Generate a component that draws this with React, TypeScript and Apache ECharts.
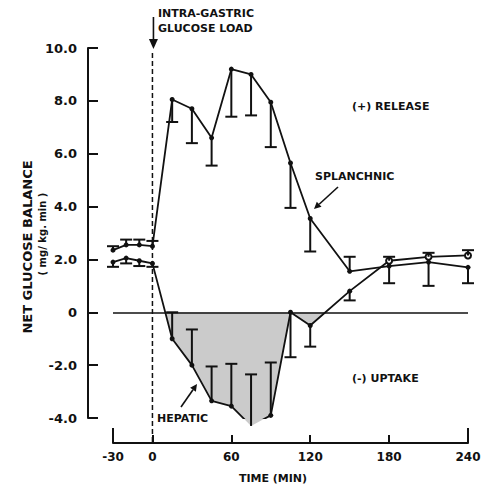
import React, { useEffect, useRef } from "react";
import * as echarts from "echarts";

const TIME = [-30, -20, -10, 0, 15, 30, 45, 60, 75, 90, 105, 120, 150, 180, 210, 240];
const SPLANCHNIC = [2.35, 2.55, 2.55, 2.5, 8.05, 7.7, 6.6, 9.2, 9.0, 7.95, 5.65, 3.55, 1.55, 1.75, 1.9, 1.7];
const SPLANCHNIC_ERR = [2.5, 2.75, 2.75, 2.7, 7.2, 6.4, 5.55, 7.4, 7.45, 6.25, 3.95, 2.3, 2.1, 1.1, 1.0, 1.1];
const HEPATIC = [1.9, 2.05, 1.95, 1.85, -1.0, -2.0, -3.35, -3.55, -4.3, -3.9, 0, -0.5, 0.8, 1.95, 2.1, 2.15];
const HEPATIC_ERR = [1.72, 1.85, 1.75, 1.72, 0, -0.65, -2.05, -1.95, -2.35, -1.9, -1.7, -1.3, 0.45, 2.1, 2.25, 2.35];
const X_TICKS = [-30, 0, 60, 120, 180, 240];
const X_END_TICKS = [-30, 240];
const Y_MIN = -4;
const Y_MAX = 10;
const Y_STEP = 2;

const INK = "#111";
const FONT = "DejaVu Sans";

function arrow(x1: number, y1: number, x2: number, y2: number, head = 7, w = 3.5) {
  const dx = x2 - x1;
  const dy = y2 - y1;
  const len = Math.sqrt(dx * dx + dy * dy);
  const ux = dx / len;
  const uy = dy / len;
  const bx = x2 - ux * head;
  const by = y2 - uy * head;
  return [
    { type: "line", shape: { x1, y1, x2: bx, y2: by }, style: { stroke: INK, lineWidth: 1.6 } },
    {
      type: "polygon",
      shape: { points: [[x2, y2], [bx - uy * w, by + ux * w], [bx + uy * w, by - ux * w]] },
      style: { fill: INK },
    },
  ];
}

function errorBars(times: number[], vals: number[], errs: number[]) {
  return {
    type: "custom",
    z: 4,
    data: times.map((t, i) => [t, vals[i], errs[i]]),
    renderItem: (params: any, api: any) => {
      const p1 = api.coord([api.value(0), api.value(1)]);
      const p2 = api.coord([api.value(0), api.value(2)]);
      return {
        type: "group",
        children: [
          { type: "line", shape: { x1: p1[0], y1: p1[1], x2: p2[0], y2: p2[1] }, style: { stroke: INK, lineWidth: 2 } },
          { type: "line", shape: { x1: p2[0] - 6, y1: p2[1], x2: p2[0] + 6, y2: p2[1] }, style: { stroke: INK, lineWidth: 2 } },
        ],
      };
    },
  };
}

function shading(params: any, api: any) {
  const y0 = api.coord([0, 0])[1];
  const polys: number[][][] = [];
  let cur: number[][] | null = null;
  for (let i = 0; i < TIME.length; i++) {
    const v = HEPATIC[i];
    const p = api.coord([TIME[i], v]);
    if (i > 0) {
      const pv = HEPATIC[i - 1];
      if ((pv > 0 && v < 0) || (pv < 0 && v > 0)) {
        const pp = api.coord([TIME[i - 1], pv]);
        const f = pv / (pv - v);
        const cx = pp[0] + f * (p[0] - pp[0]);
        if (v < 0) {
          cur = [[cx, y0]];
        } else if (cur) {
          cur.push([cx, y0]);
          polys.push(cur);
          cur = null;
        }
      }
    }
    if (v < 0) {
      if (!cur) cur = [[p[0], y0]];
      cur.push(p);
    } else if (v === 0) {
      if (cur) {
        cur.push([p[0], y0]);
        polys.push(cur);
      }
      cur = [[p[0], y0]];
    } else {
      cur = null;
    }
  }
  if (cur && cur.length > 1) {
    cur.push([cur[cur.length - 1][0], y0]);
    polys.push(cur);
  }
  return {
    type: "group",
    children: polys
      .filter((pl) => pl.length >= 3)
      .map((pl) => ({ type: "polygon", shape: { points: pl }, style: { fill: "#cbcbcb", stroke: "none" } })),
  };
}

export default function App() {
  const ref = useRef<HTMLDivElement>(null);
  useEffect(() => {
    if (!ref.current) return;
    const chart = echarts.init(ref.current, null, { renderer: "svg" });
    const gridLeft = 113;
    const gridRight = 24;
    const gridTop = 48;
    const gridBottom = 69;
    const axisOffset = 25;
    chart.setOption({
      animation: false,
      backgroundColor: "#fff",
      grid: { left: gridLeft, right: gridRight, top: gridTop, bottom: gridBottom, containLabel: false },
      xAxis: [
        {
          type: "value",
          min: -30,
          max: 240,
          interval: 30,
          position: "bottom",
          offset: axisOffset,
          splitLine: { show: false },
          axisLine: { show: true, onZero: false, lineStyle: { color: INK, width: 2 } },
          axisTick: { show: true, inside: true, length: 8, customValues: X_TICKS, lineStyle: { color: INK, width: 2 } },
          axisLabel: {
            customValues: X_TICKS,
            color: INK,
            fontFamily: FONT,
            fontWeight: "bold",
            fontSize: 12,
            margin: 8,
          },
        },
        {
          type: "value",
          min: -30,
          max: 240,
          position: "bottom",
          offset: axisOffset,
          splitLine: { show: false },
          axisLine: { show: false, onZero: false },
          axisTick: { show: true, inside: true, length: 15, customValues: X_END_TICKS, lineStyle: { color: INK, width: 2 } },
          axisLabel: { show: false },
        },
      ],
      yAxis: {
        type: "value",
        min: Y_MIN,
        max: Y_MAX,
        interval: Y_STEP,
        position: "left",
        offset: axisOffset,
        splitLine: { show: false },
        axisLine: { show: true, onZero: false, lineStyle: { color: INK, width: 2 } },
        axisTick: { show: true, inside: true, length: 10, lineStyle: { color: INK, width: 2 } },
        axisLabel: {
          color: INK,
          fontFamily: FONT,
          fontWeight: "bold",
          fontSize: 13,
          margin: 11,
          formatter: (v: number) => (v === 0 ? "0" : v.toFixed(1)),
        },
      },
      series: [
        {
          type: "custom",
          z: 1,
          data: [[0, 0]],
          renderItem: shading,
          markLine: {
            silent: true,
            symbol: "none",
            label: { show: false },
            lineStyle: { color: INK, width: 1.6, type: "solid" },
            data: [{ yAxis: 0 }],
          },
        },
        {
          name: "Splanchnic",
          type: "line",
          z: 3,
          data: TIME.map((t, i) => [t, SPLANCHNIC[i]]),
          symbol: "circle",
          symbolSize: 5,
          itemStyle: { color: INK },
          lineStyle: { color: INK, width: 1.8 },
        },
        {
          name: "Hepatic",
          type: "line",
          z: 3,
          data: TIME.map((t, i) =>
            i >= 13
              ? { value: [t, HEPATIC[i]], symbol: "emptyCircle", symbolSize: 6, itemStyle: { color: INK, borderColor: INK, borderWidth: 1.5 } }
              : [t, HEPATIC[i]]
          ),
          symbol: "circle",
          symbolSize: 5,
          itemStyle: { color: INK },
          lineStyle: { color: INK, width: 1.8 },
        },
        errorBars(TIME, SPLANCHNIC, SPLANCHNIC_ERR),
        errorBars(TIME, HEPATIC, HEPATIC_ERR),
      ],
    });

    const x0 = chart.convertToPixel({ xAxisIndex: 0 }, 0) as number;
    const yAxisBottom = (chart.convertToPixel({ yAxisIndex: 0 }, Y_MIN) as number) + axisOffset;
    const txt = (x: number, y: number, text: string, size: number, extra: any = {}) => ({
      type: "text",
      x,
      y,
      style: {
        text,
        fill: INK,
        font: `bold ${size}px "${FONT}"`,
        textAlign: "left",
        textVerticalAlign: "middle",
        ...extra,
      },
    });
    chart.setOption({
      graphic: [
        {
          type: "line",
          shape: { x1: x0, y1: 53, x2: x0, y2: yAxisBottom },
          style: { stroke: INK, lineWidth: 1.5, lineDash: [5, 3] },
        },
        ...arrow(x0 + 1, 17, x0 + 1, 49, 10, 4.5),
        txt(158, 13, "INTRA-GASTRIC", 11),
        txt(158, 28, "GLUCOSE LOAD", 11),
        txt(352, 106, "(+) RELEASE", 11),
        txt(315, 176, "SPLANCHNIC", 11),
        ...arrow(338, 187, 314, 209, 7, 3.5),
        txt(352, 378, "(-) UPTAKE", 11),
        txt(157, 418, "HEPATIC", 11),
        ...arrow(181, 407, 197, 384, 7, 3.5),
        txt(273, 478, "TIME (MIN)", 11, { textAlign: "center" }),
        {
          type: "text",
          x: 27,
          y: 247,
          rotation: Math.PI / 2,
          style: {
            text: "NET GLUCOSE BALANCE",
            fill: INK,
            font: `bold 13px "${FONT}"`,
            textAlign: "center",
            textVerticalAlign: "middle",
          },
        },
        {
          type: "text",
          x: 42,
          y: 234,
          rotation: Math.PI / 2,
          style: {
            text: "( mg/ kg. min )",
            fill: INK,
            font: `bold 10px "${FONT}"`,
            textAlign: "center",
            textVerticalAlign: "middle",
          },
        },
      ],
    });
    return () => chart.dispose();
  }, []);
  return <div ref={ref} style={{ position: "fixed", left: 0, top: 0, width: 492, height: 487 }} />;
}
